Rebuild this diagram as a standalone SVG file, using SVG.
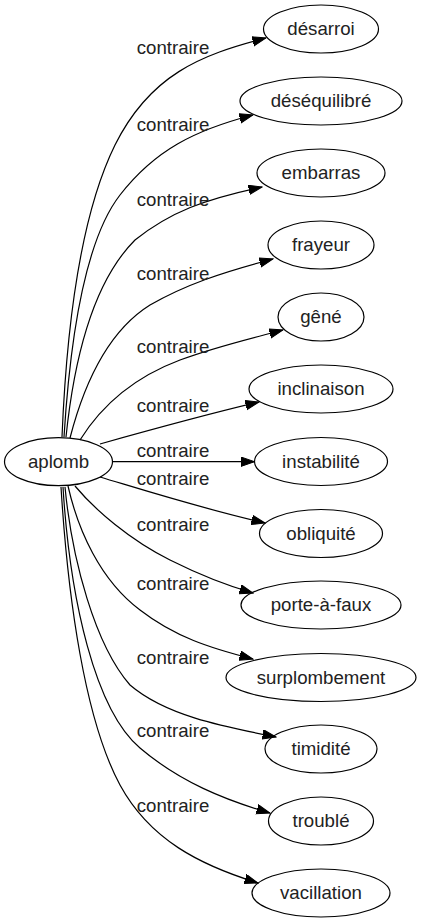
<svg xmlns="http://www.w3.org/2000/svg" width="421" height="923" viewBox="0 0 421 923">
<style>
  .node ellipse { fill: none; stroke: #000; stroke-width: 1.2; }
  text { font-family: "Liberation Sans", Arial, sans-serif; font-size: 18.67px; fill: #222; text-anchor: middle; }
  .edge path { fill: none; stroke: #000; stroke-width: 1.2; }
</style>
<defs>
  <marker id="arrow" markerUnits="userSpaceOnUse" markerWidth="15" markerHeight="11" refX="13.5" refY="5" orient="auto">
    <path d="M0,0.3 L13.5,5 L0,9.7 z" fill="#000" stroke="#000" stroke-width="1"/>
  </marker>
</defs>
<rect width="421" height="923" fill="#fff"/>
<g id="edges" class="edge">
  <path marker-end="url(#arrow)" d="M62,437 C66,340 78,220 115,145 C150,75 200,55 266,38"/>
  <path marker-end="url(#arrow)" d="M64,437 C70,340 85,240 120,195 C155,150 195,130 253,115"/>
  <path marker-end="url(#arrow)" d="M66,437 C75,350 95,280 135,240 C170,212 205,199 262,187"/>
  <path marker-end="url(#arrow)" d="M70,438 C85,380 110,330 150,305 C185,285 220,273 273,259"/>
  <path marker-end="url(#arrow)" d="M80,440 C105,400 140,375 180,360 C215,347 245,340 283,330"/>
  <path marker-end="url(#arrow)" d="M100,444 C150,430 200,416 259,402"/>
  <path marker-end="url(#arrow)" d="M112.5,461.7 L254.5,461.7"/>
  <path marker-end="url(#arrow)" d="M100,477 C150,492 200,508 265,523"/>
  <path marker-end="url(#arrow)" d="M75,486 C95,510 130,540 170,560 C200,575 225,585 253,593"/>
  <path marker-end="url(#arrow)" d="M68,486 C78,530 100,580 140,610 C175,637 210,648 253,659"/>
  <path marker-end="url(#arrow)" d="M65,487 C72,560 95,645 130,685 C165,715 220,726 276,737"/>
  <path marker-end="url(#arrow)" d="M63,487 C70,600 95,710 140,748 C180,782 225,800 270,813"/>
  <path marker-end="url(#arrow)" d="M61,487 C68,600 85,720 120,785 C150,840 200,865 258,883"/>
  <text x="173" y="54">contraire</text>
  <text x="173" y="131">contraire</text>
  <text x="173" y="206">contraire</text>
  <text x="173" y="280">contraire</text>
  <text x="173" y="353">contraire</text>
  <text x="173" y="412">contraire</text>
  <text x="173" y="457">contraire</text>
  <text x="173" y="485">contraire</text>
  <text x="173" y="531">contraire</text>
  <text x="173" y="590">contraire</text>
  <text x="173" y="664">contraire</text>
  <text x="173" y="737">contraire</text>
  <text x="173" y="812">contraire</text>
</g>
<g id="aplomb" class="node"><ellipse cx="58.5" cy="461.7" rx="54" ry="24"/><text x="58.5" y="467.5">aplomb</text></g>
<g id="desarroi" class="node"><ellipse cx="321" cy="29" rx="57.5" ry="24"/><text x="321" y="35">désarroi</text></g>
<g id="desequilibre" class="node"><ellipse cx="321" cy="101" rx="81" ry="24"/><text x="321" y="107">déséquilibré</text></g>
<g id="embarras" class="node"><ellipse cx="321" cy="173" rx="64" ry="24"/><text x="321" y="179">embarras</text></g>
<g id="frayeur" class="node"><ellipse cx="321" cy="245" rx="53" ry="24"/><text x="321" y="251">frayeur</text></g>
<g id="gene" class="node"><ellipse cx="321" cy="317" rx="43" ry="24"/><text x="321" y="323">gêné</text></g>
<g id="inclinaison" class="node"><ellipse cx="321" cy="389" rx="72" ry="24"/><text x="321" y="395">inclinaison</text></g>
<g id="instabilite" class="node"><ellipse cx="321" cy="461.5" rx="66.5" ry="24"/><text x="321" y="467.5">instabilité</text></g>
<g id="obliquite" class="node"><ellipse cx="321" cy="533.5" rx="61.5" ry="24"/><text x="321" y="539.5">obliquité</text></g>
<g id="porte-a-faux" class="node"><ellipse cx="321" cy="605" rx="80" ry="24"/><text x="321" y="611">porte-à-faux</text></g>
<g id="surplombement" class="node"><ellipse cx="321" cy="677.5" rx="95" ry="24"/><text x="321" y="683.5">surplombement</text></g>
<g id="timidite" class="node"><ellipse cx="321" cy="749" rx="56" ry="24"/><text x="321" y="755">timidité</text></g>
<g id="trouble" class="node"><ellipse cx="321" cy="821" rx="52.5" ry="24"/><text x="321" y="827">troublé</text></g>
<g id="vacillation" class="node"><ellipse cx="321" cy="893" rx="69" ry="24"/><text x="321" y="899">vacillation</text></g>
</svg>
